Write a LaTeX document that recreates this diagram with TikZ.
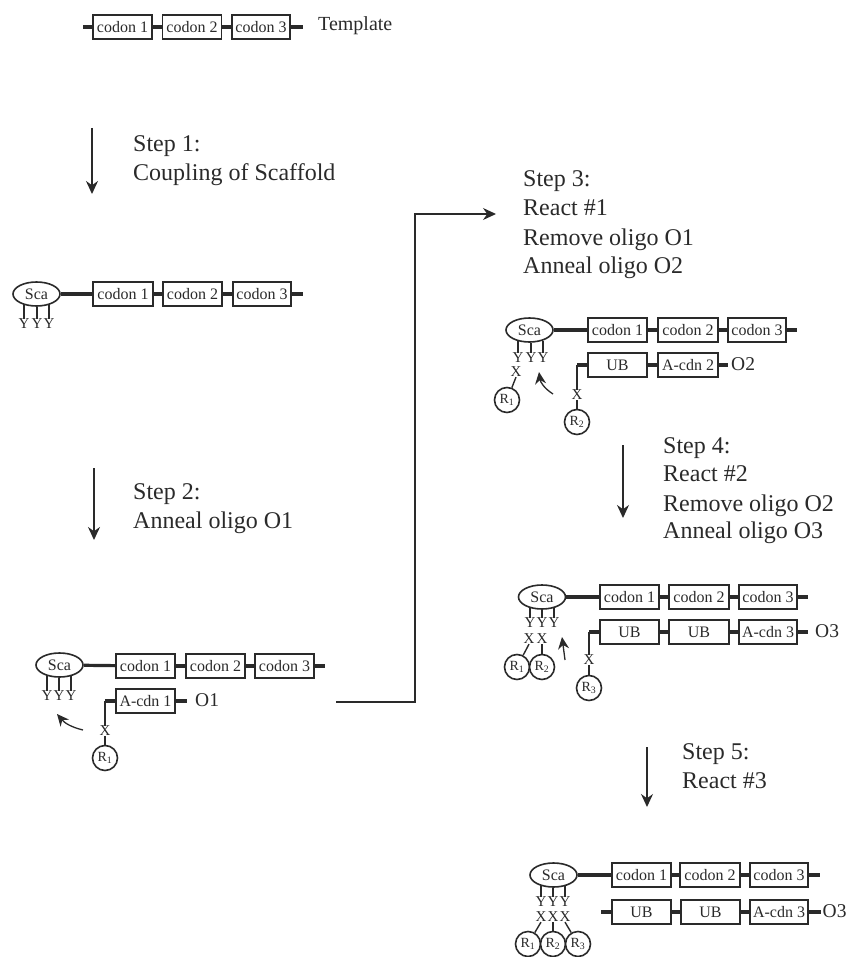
\documentclass[tikz,border=0pt]{standalone}
\usepackage{fontspec}
\setmainfont{Liberation Serif}
\usetikzlibrary{arrows.meta,shapes.geometric}
\definecolor{ink}{HTML}{2A2A2A}
\tikzset{
  x=1pt,y=-1pt,
  every node/.style={text=ink,font=\fontsize{24}{26}\selectfont},
  wire/.style={draw=ink,line width=3.2pt},
  thin link/.style={draw=ink,line width=1.4pt},
  unit/.style={draw=ink,line width=1.6pt,fill=white,rectangle,inner sep=0pt,minimum height=24pt,font=\fontsize{16}{17}\selectfont},
  sca/.style={draw=ink,line width=1.6pt,fill=white,ellipse,inner sep=0pt,minimum width=47pt,minimum height=24pt,font=\fontsize{16}{17}\selectfont},
  rball/.style={draw=ink,line width=1.6pt,fill=white,circle,inner sep=0pt,minimum size=25pt,font=\fontsize{14}{16}\selectfont},
  glyph/.style={inner sep=0pt,font=\fontsize{15}{15}\selectfont},
  label/.style={anchor=west,inner sep=0pt,align=left,text height=16pt,text depth=3pt},
  small label/.style={anchor=west,inner sep=0pt,font=\fontsize{19.5}{20}\selectfont},
  stepline/.style={draw=ink,line width=1.3pt,-{Stealth[length=13pt,width=12pt]}},
  bond arrow/.style={draw=ink,line width=1.3pt,-{Stealth[length=12pt,width=11pt]}},
}
\newcommand{\ubox}[5]{\node[unit,minimum width=#3pt] (#1) at (#2,#4) {#5};}
\newcommand{\rtxt}[1]{R\textsubscript{#1}}
% three Y glyphs on stems hanging from an ellipse: prefix, ellipse, x1, x2, x3, y
\newcommand{\ystems}[6]{%
  \node[glyph] (#1y1) at (#3,#6) {Y}; \node[glyph] (#1y2) at (#4,#6) {Y}; \node[glyph] (#1y3) at (#5,#6) {Y};
  \draw[thin link] (#1y1.north) -- ([yshift=2pt]#1y1.north |- #2.south);
  \draw[thin link] (#1y2.north) -- (#1y2.north |- #2.south);
  \draw[thin link] (#1y3.north) -- ([yshift=2pt]#1y3.north |- #2.south);}
\begin{document}
\begin{tikzpicture}
\useasboundingbox (0,0) rectangle (846,957);
% Template
\ubox{a1}{122.5}{59}{27}{codon 1}
\ubox{a2}{192}{59}{27}{codon 2}
\ubox{a3}{261}{58}{27}{codon 3}
\coordinate (a0) at (83,27); \coordinate (ae) at (303,27);
\draw[wire] (a0)--(a1); \draw[wire] (a1)--(a2); \draw[wire] (a2)--(a3); \draw[wire] (a3)--(ae);
\node[small label,font=\fontsize{20}{22}\selectfont] (tpl) at (318,26) {Template};
\node[label] (s1) at (133,145) {Step 1:};
\node[label] (s1b) at (133,174) {Coupling of Scaffold};
\coordinate (s1a) at (92,128); \coordinate (s1z) at (92,194);
\draw[stepline] (s1a)--(s1z);
% Row B
\node[sca] (bs) at (36.5,294) {Sca};
\ubox{b1}{123}{60}{294}{codon 1}
\ubox{b2}{192.5}{59}{294}{codon 2}
\ubox{b3}{262}{58}{294}{codon 3}
\coordinate (be) at (303,294);
\draw[wire] (bs)--(b1); \draw[wire] (b1)--(b2); \draw[wire] (b2)--(b3); \draw[wire] (b3)--(be);
\ystems{b}{bs}{24}{37}{49}{324}
\node[label] (s2) at (133,493) {Step 2:};
\node[label] (s2b) at (133,522) {Anneal oligo O1};
\coordinate (s2a) at (94,468); \coordinate (s2z) at (94,540);
\draw[stepline] (s2a)--(s2z);
% Row C
\node[sca] (cs) at (59.5,665) {Sca};
\ubox{c1}{145.5}{59}{666}{codon 1}
\ubox{c2}{215.5}{59}{666}{codon 2}
\ubox{c3}{284.5}{59}{666}{codon 3}
\coordinate (ce) at (325,666);
\draw[wire] (cs)--(c1); \draw[wire] (c1)--(c2); \draw[wire] (c2)--(c3); \draw[wire] (c3)--(ce);
\ystems{c}{cs}{47}{59}{71}{696}
\ubox{c4}{145.5}{59}{701}{A-cdn 1}
\coordinate (c4e) at (187,701); \coordinate (c4l) at (105,701);
\draw[wire] (c4)--(c4e); \draw[wire] (c4)--(c4l);
\node[small label] (co) at (195,700) {O1};
\node[rball] (cr) at (105,758) {\rtxt{1}};
\node[glyph] (cx) at (105,731) {X};
\draw[thin link] (c4l)--(cx.north); \draw[thin link] (cx.south)--(cr);
\coordinate (ca) at (83,730); \coordinate (cb) at (57,714);
\draw[bond arrow] (ca) to[bend left=18] (cb);
% long connector
\coordinate (la) at (336,702); \coordinate (lb) at (415,702); \coordinate (lc) at (415,214); \coordinate (ld) at (496,214);
\draw[stepline] (la)--(lb)--(lc)--(ld);
% Step 3
\node[label] (s3) at (523,180) {Step 3:};
\node[label] (s3b) at (523,209) {React \#1};
\node[label] (s3c) at (523,239) {Remove oligo O1};
\node[label] (s3d) at (523,267) {Anneal oligo O2};
% Row D
\node[sca] (ds) at (529.5,330) {Sca};
\ubox{d1}{617.5}{59}{330}{codon 1}
\ubox{d2}{688}{60}{330}{codon 2}
\ubox{d3}{757}{58}{330}{codon 3}
\coordinate (de) at (797,330);
\draw[wire] (ds)--(d1); \draw[wire] (d1)--(d2); \draw[wire] (d2)--(d3); \draw[wire] (d3)--(de);
\ystems{d}{ds}{518}{531}{543}{358}
\ubox{d4}{617.5}{59}{365}{UB}
\ubox{d5}{688}{60}{365}{A-cdn 2}
\coordinate (d5e) at (728,365); \coordinate (d4l) at (577,365);
\draw[wire] (d4)--(d5); \draw[wire] (d5)--(d5e); \draw[wire] (d4)--(d4l);
\node[small label] (do) at (731,364) {O2};
\node[rball] (dr2) at (577,422) {\rtxt{2}};
\node[glyph] (dx2) at (577,395) {X};
\draw[thin link] (d4l)--(dx2.north); \draw[thin link] (dx2.south)--(dr2);
\node[rball] (dr1) at (507,400) {\rtxt{1}};
\node[glyph] (dx1) at (516,372) {X};
\draw[thin link] (dx1.south)--(dr1);
\coordinate (da) at (553,394); \coordinate (db) at (539,372);
\draw[bond arrow] (da) to[bend left=25] (db);
% Step 4
\node[label] (s4) at (663,447) {Step 4:};
\node[label] (s4b) at (663,475) {React \#2};
\node[label] (s4c) at (663,505) {Remove oligo O2};
\node[label] (s4d) at (663,532) {Anneal oligo O3};
\coordinate (s4a) at (623,445); \coordinate (s4z) at (623,518);
\draw[stepline] (s4a)--(s4z);
% Row E
\node[sca] (es) at (542,597) {Sca};
\ubox{e1}{629.5}{59}{597}{codon 1}
\ubox{e2}{699}{60}{597}{codon 2}
\ubox{e3}{768}{58}{597}{codon 3}
\coordinate (ee) at (808,597);
\draw[wire] (es)--(e1); \draw[wire] (e1)--(e2); \draw[wire] (e2)--(e3); \draw[wire] (e3)--(ee);
\ystems{e}{es}{530}{542}{554}{623}
\node[glyph] (ex1) at (529,639) {X}; \node[glyph] (ex2) at (542,639) {X};
\ubox{e4}{629.5}{59}{632}{UB}
\ubox{e5}{699}{60}{632}{UB}
\ubox{e6}{768}{58}{632}{A-cdn 3}
\coordinate (e6e) at (808,632); \coordinate (e4l) at (589,632);
\draw[wire] (e4)--(e5); \draw[wire] (e5)--(e6); \draw[wire] (e6)--(e6e); \draw[wire] (e4)--(e4l);
\node[small label] (eo) at (815,631) {O3};
\node[rball] (er3) at (589,688) {\rtxt{3}};
\node[glyph] (ex3) at (589,660) {X};
\draw[thin link] (e4l)--(ex3.north); \draw[thin link] (ex3.south)--(er3);
\node[rball] (er1) at (517,667) {\rtxt{1}};
\node[rball] (er2) at (542,667) {\rtxt{2}};
\draw[thin link] (ex1.south)--(er1); \draw[thin link] (ex2.south)--(er2);
\coordinate (ea) at (565,660); \coordinate (eb) at (562,637);
\draw[bond arrow] (ea)--(eb);
% Step 5
\node[label] (s5) at (682,753) {Step 5:};
\node[label] (s5b) at (682,782) {React \#3};
\coordinate (s5a) at (647,747); \coordinate (s5z) at (647,807);
\draw[stepline] (s5a)--(s5z);
% Row F
\node[sca] (fs) at (553.5,875) {Sca};
\ubox{f1}{641.5}{59}{875}{codon 1}
\ubox{f2}{710}{60}{875}{codon 2}
\ubox{f3}{779}{58}{875}{codon 3}
\coordinate (fe) at (820,875);
\draw[wire] (fs)--(f1); \draw[wire] (f1)--(f2); \draw[wire] (f2)--(f3); \draw[wire] (f3)--(fe);
\ystems{f}{fs}{541}{553}{565}{902}
\node[glyph] (fx1) at (541,917) {X}; \node[glyph] (fx2) at (553,917) {X}; \node[glyph] (fx3) at (565,917) {X};
\ubox{f4}{641.5}{59}{912}{UB}
\ubox{f5}{710.5}{59}{912}{UB}
\ubox{f6}{779}{58}{912}{A-cdn 3}
\coordinate (f6e) at (821,912); \coordinate (f4l) at (601,912);
\draw[wire] (f4)--(f5); \draw[wire] (f5)--(f6); \draw[wire] (f6)--(f6e); \draw[wire] (f4)--(f4l);
\node[small label] (fo) at (822.5,911) {O3};
\node[rball] (fr1) at (528,944) {\rtxt{1}};
\node[rball] (fr2) at (553,944) {\rtxt{2}};
\node[rball] (fr3) at (578,944) {\rtxt{3}};
\draw[thin link] (fx1.south)--(fr1); \draw[thin link] (fx2.south)--(fr2); \draw[thin link] (fx3.south)--(fr3);
\end{tikzpicture}
\end{document}
